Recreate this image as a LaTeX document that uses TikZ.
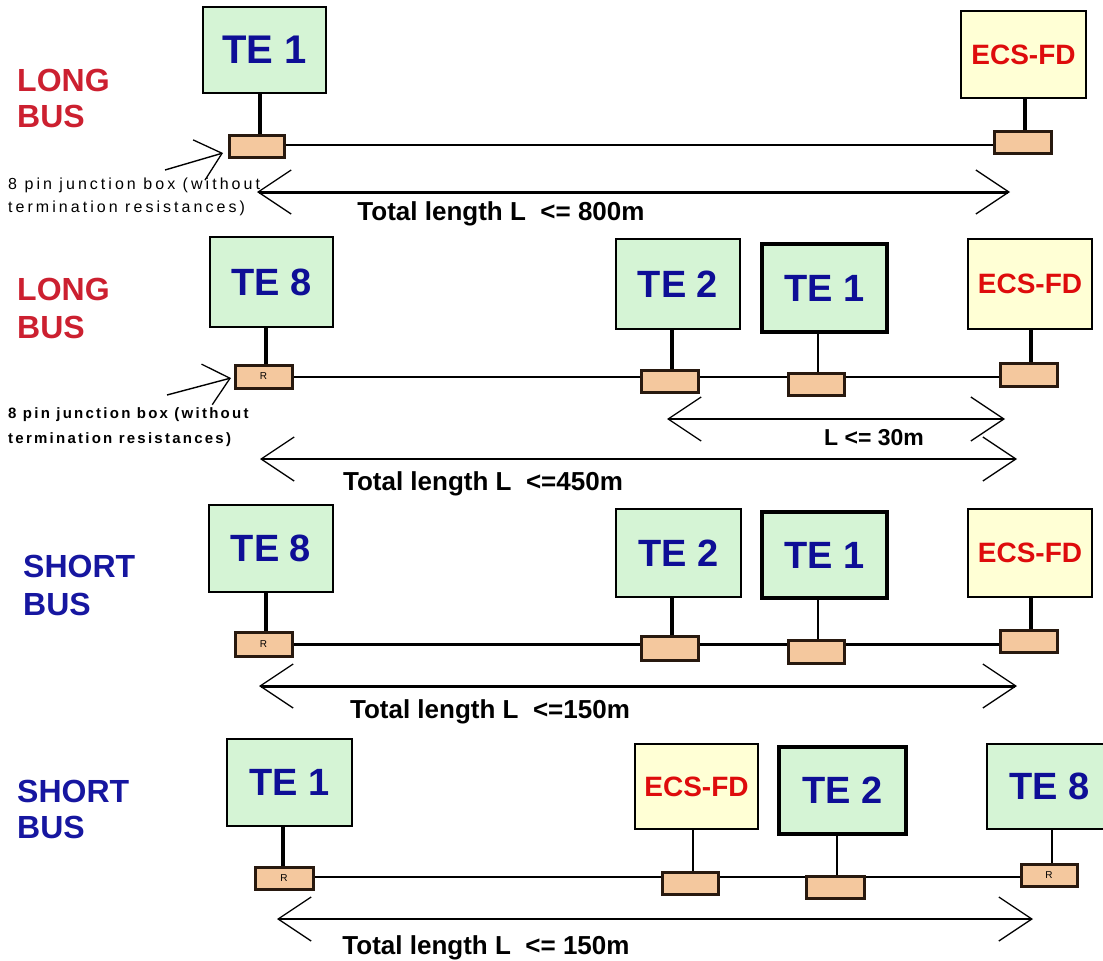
\documentclass[tikz,border=0pt]{standalone}
\usepackage{fontspec}
\setmainfont{Liberation Sans}
\newfontfamily\notefont{Liberation Sans}[LetterSpace=19]
\newfontfamily\boldnotefont{Liberation Sans}[LetterSpace=15]
\usetikzlibrary{arrows.meta}
\pgfdeclarelayer{background}
\pgfsetlayers{background,main}

\definecolor{tegreen}{RGB}{213,244,213}
\definecolor{ecsyellow}{RGB}{255,255,213}
\definecolor{jpeach}{RGB}{244,200,158}
\definecolor{jborder}{RGB}{40,25,15}
\definecolor{teblue}{RGB}{14,14,150}
\definecolor{ecsred}{RGB}{222,12,12}
\definecolor{longred}{RGB}{204,32,48}
\definecolor{shortblue}{RGB}{22,22,160}

\tikzset{
  tebox/.style={rectangle, draw=black, line width=2.6pt, fill=tegreen, text=teblue,
    font=\bfseries\fontsize{38}{42}\selectfont, inner sep=0pt},
  bigte/.style={font=\bfseries\fontsize{40}{44}\selectfont},
  ecsbox/.style={rectangle, draw=black, line width=2.6pt, fill=ecsyellow, text=ecsred,
    font=\bfseries\fontsize{28}{32}\selectfont, inner sep=0pt},
  heavy/.style={line width=3.6pt},
  jbox/.style={rectangle, draw=jborder, line width=3pt, fill=jpeach,
    font=\fontsize{10}{12}\selectfont, inner sep=0pt},
  stem/.style={line width=3.4pt},
  thinstem/.style={line width=1.8pt},
  bus/.style={line width=1.8pt},
  thickbus/.style={line width=3pt},
  dimline/.style={line width=1.8pt,
    {Straight Barb[length=33pt,width=44pt,line width=1.3pt]}-{Straight Barb[length=33pt,width=44pt,line width=1.3pt]}},
  thickdim/.style={dimline, line width=3pt},
  dimlabel/.style={anchor=base, font=\bfseries\fontsize{26}{30}\selectfont, inner sep=0pt},
  buslabel/.style={anchor=base west, font=\bfseries\fontsize{32}{36}\selectfont, inner sep=0pt},
  note/.style={anchor=base west, font=\notefont\fontsize{16}{18}\selectfont, inner sep=0pt},
  boldnote/.style={anchor=base west, font=\boldnotefont\bfseries\fontsize{15}{18}\selectfont, inner sep=0pt},
  pointer/.style={line width=1.4pt, -{Straight Barb[length=24pt,width=42pt,line width=1.3pt]}},
}

\begin{document}
\begin{tikzpicture}[x=1pt,y=-1pt]
\useasboundingbox (0,0) rectangle (1103,961);
\clip (0,0) rectangle (1103,961);

% ---------------- Long bus, two stations ----------------
\node[buslabel, text=longred] (r1long) at (17,91) {LONG};
\node[buslabel, text=longred] (r1bus) at (17,127) {BUS};
\node[tebox, bigte, minimum width=123pt, minimum height=86pt] (r1te1) at (264.5,50) {TE 1};
\node[ecsbox, minimum width=125pt, minimum height=87pt] (r1ecs) at (1023.5,54.5) {ECS-FD};
\node[jbox, minimum width=55pt, minimum height=22pt] (r1j1) at (256.5,146) {};
\node[jbox, minimum width=57pt, minimum height=22pt] (r1j2) at (1022.5,142) {};
\begin{pgfonlayer}{background}
  \draw[bus] (r1j1.east |- 0,145) -- (r1j2.west |- 0,145);
\end{pgfonlayer}
\draw[stem] (r1j1.north -| 260,0) -- (r1te1.south -| 260,0);
\draw[stem] (r1j2.north -| 1025,0) -- (r1ecs.south -| 1025,0);
\coordinate (r1dl) at (257,192);
\coordinate (r1dr) at (1010,192);
\draw[thickdim] (r1dl) -- (r1dr);
\node[dimlabel] (r1len) at (501,220) {Total length L\ \ <= 800m};
\node[note] (r1note) at (8,189) {8 pin junction box (without};
\node[note] (r1note2) at (8,212) {termination resistances)};
\coordinate (r1tail) at (165,170);
\coordinate (r1tip) at (223,153);
\draw[pointer] (r1tail) -- (r1tip);

% ---------------- Long bus, several stations ----------------
\node[buslabel, text=longred] (r2long) at (17,300) {LONG};
\node[buslabel, text=longred] (r2bus) at (17,338) {BUS};
\node[tebox, minimum width=123pt, minimum height=90pt] (r2te8) at (271.5,282) {TE 8};
\node[tebox, minimum width=124pt, minimum height=90pt] (r2te2) at (678,284) {TE 2};
\node[tebox, heavy, minimum width=125pt, minimum height=88pt] (r2te1) at (824.5,288) {TE 1};
\node[ecsbox, minimum width=124pt, minimum height=90pt] (r2ecs) at (1030,284) {ECS-FD};
\node[jbox, minimum width=57pt, minimum height=23pt] (r2j8) at (263.5,376.5) {R};
\node[jbox, minimum width=57pt, minimum height=22pt] (r2j2) at (669.5,381) {};
\node[jbox, minimum width=56pt, minimum height=22pt] (r2j1) at (816,384) {};
\node[jbox, minimum width=57pt, minimum height=23pt] (r2jecs) at (1028.5,374.5) {};
\begin{pgfonlayer}{background}
  \draw[bus] (r2j8.east |- 0,377) -- (r2jecs.west |- 0,377);
\end{pgfonlayer}
\draw[stem] (r2j8.north -| 266,0) -- (r2te8.south -| 266,0);
\draw[stem] (r2j2.north -| 672,0) -- (r2te2.south -| 672,0);
\draw[thinstem] (r2j1.north -| 818,0) -- (r2te1.south -| 818,0);
\draw[stem] (r2jecs.north -| 1031,0) -- (r2ecs.south -| 1031,0);
\coordinate (r2sl) at (667,419);
\coordinate (r2sr) at (1005,419);
\draw[dimline] (r2sl) -- (r2sr);
\node[dimlabel, font=\bfseries\fontsize{23}{27}\selectfont] (r2short) at (874,445) {L <= 30m};
\coordinate (r2dl) at (260,459);
\coordinate (r2dr) at (1017,459);
\draw[dimline] (r2dl) -- (r2dr);
\node[dimlabel] (r2len) at (483,490) {Total length L\ \ <=450m};
\node[boldnote] (r2note) at (8,418) {8 pin junction box (without};
\node[boldnote] (r2note2) at (8,443) {termination resistances)};
\coordinate (r2tail) at (167,395);
\coordinate (r2tip) at (231,378);
\draw[pointer] (r2tail) -- (r2tip);

% ---------------- Short bus, same order ----------------
\node[buslabel, text=shortblue] (r3short) at (23,577) {SHORT};
\node[buslabel, text=shortblue] (r3bus) at (23,615) {BUS};
\node[tebox, minimum width=124pt, minimum height=87pt] (r3te8) at (271,548.5) {TE 8};
\node[tebox, minimum width=125pt, minimum height=88pt] (r3te2) at (678.5,553) {TE 2};
\node[tebox, heavy, minimum width=125pt, minimum height=86pt] (r3te1) at (824.5,555) {TE 1};
\node[ecsbox, minimum width=124pt, minimum height=88pt] (r3ecs) at (1030,553) {ECS-FD};
\node[jbox, minimum width=57pt, minimum height=24pt] (r3j8) at (263.5,644) {R};
\node[jbox, minimum width=57pt, minimum height=24pt] (r3j2) at (669.5,648) {};
\node[jbox, minimum width=56pt, minimum height=23pt] (r3j1) at (816,651.5) {};
\node[jbox, minimum width=57pt, minimum height=22pt] (r3jecs) at (1028.5,641) {};
\begin{pgfonlayer}{background}
  \draw[thickbus] (r3j8.east |- 0,644) -- (r3jecs.west |- 0,644);
\end{pgfonlayer}
\draw[stem] (r3j8.north -| 266,0) -- (r3te8.south -| 266,0);
\draw[stem] (r3j2.north -| 672,0) -- (r3te2.south -| 672,0);
\draw[thinstem] (r3j1.north -| 818,0) -- (r3te1.south -| 818,0);
\draw[stem] (r3jecs.north -| 1031,0) -- (r3ecs.south -| 1031,0);
\coordinate (r3dl) at (259,686);
\coordinate (r3dr) at (1017,686);
\draw[thickdim] (r3dl) -- (r3dr);
\node[dimlabel] (r3len) at (490,718) {Total length L\ \ <=150m};

% ---------------- Short bus, controller in the middle ----------------
\node[buslabel, text=shortblue] (r4short) at (17,802) {SHORT};
\node[buslabel, text=shortblue] (r4bus) at (17,838) {BUS};
\node[tebox, minimum width=125pt, minimum height=87pt] (r4te1) at (289.5,782.5) {TE 1};
\node[ecsbox, minimum width=123pt, minimum height=85pt] (r4ecs) at (696.5,786.5) {ECS-FD};
\node[tebox, heavy, minimum width=127pt, minimum height=87pt] (r4te2) at (842.5,790.5) {TE 2};
\node[tebox, minimum width=125pt, minimum height=85pt] (r4te8) at (1049.5,786.5) {TE 8};
\node[jbox, minimum width=58pt, minimum height=22pt] (r4j1) at (284,878) {R};
\node[jbox, minimum width=56pt, minimum height=22pt] (r4jecs) at (690,883) {};
\node[jbox, minimum width=58pt, minimum height=22pt] (r4j2) at (835,887) {};
\node[jbox, minimum width=56pt, minimum height=22pt] (r4j8) at (1049,875) {R};
\begin{pgfonlayer}{background}
  \draw[bus] (r4j1.east |- 0,877) -- (r4j8.west |- 0,877);
\end{pgfonlayer}
\draw[stem] (r4j1.north -| 283,0) -- (r4te1.south -| 283,0);
\draw[thinstem] (r4jecs.north -| 693,0) -- (r4ecs.south -| 693,0);
\draw[thinstem] (r4j2.north -| 837,0) -- (r4te2.south -| 837,0);
\draw[thinstem] (r4j8.north -| 1052,0) -- (r4te8.south -| 1052,0);
\coordinate (r4dl) at (277,919);
\coordinate (r4dr) at (1033,919);
\draw[dimline] (r4dl) -- (r4dr);
\node[dimlabel] (r4len) at (486,954) {Total length L\ \ <= 150m};
\end{tikzpicture}
\end{document}
